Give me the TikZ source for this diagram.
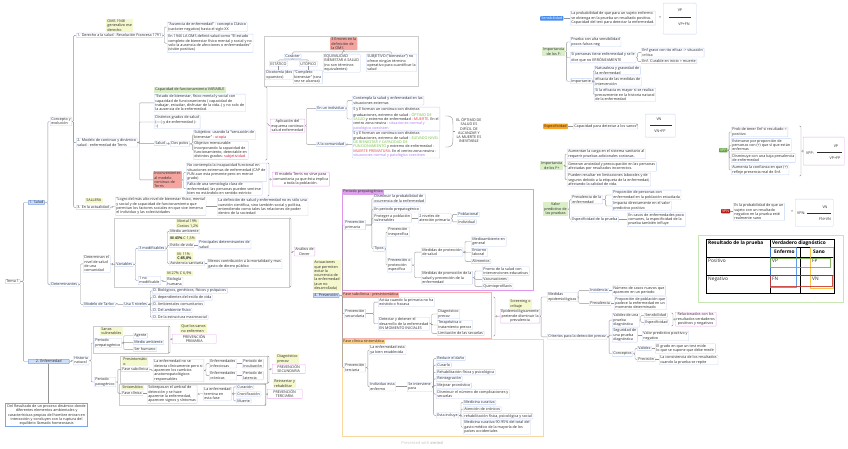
\documentclass[tikz,border=0pt]{standalone}
\usepackage{fontspec}
\setmainfont{Open Sans}
\usetikzlibrary{calc}
\definecolor{tb}{RGB}{196,212,245}
\definecolor{txt}{RGB}{45,45,45}
\definecolor{yl}{RGB}{245,247,205}
\definecolor{gl}{RGB}{218,238,200}
\definecolor{bfill}{RGB}{205,222,250}
\definecolor{bdraw}{RGB}{125,165,235}
\definecolor{redf}{RGB}{245,165,160}
\definecolor{pk}{RGB}{236,175,242}
\definecolor{lg}{RGB}{150,150,150}
\definecolor{frg}{RGB}{205,205,205}
\definecolor{mag}{RGB}{225,150,235}
\definecolor{magl}{RGB}{222,160,235}
\definecolor{rfr}{RGB}{245,180,175}
\definecolor{rfl}{RGB}{248,175,165}
\definecolor{ofr}{RGB}{250,215,160}
\definecolor{ofl}{RGB}{250,205,130}
\definecolor{sblue}{RGB}{70,140,240}
\definecolor{sorange}{RGB}{245,165,40}
\definecolor{sgreen}{RGB}{105,165,70}
\definecolor{sred}{RGB}{190,25,25}
\definecolor{gtx}{RGB}{110,190,60}
\definecolor{rtx}{RGB}{235,60,50}
\definecolor{vtx}{RGB}{170,120,240}
\definecolor{crim}{RGB}{200,30,60}
\definecolor{tgreen}{RGB}{200,230,180}
\newcommand\ft{\fontsize{3.7}{4.3}\selectfont}
\newcommand\tf{\fontsize{4.8}{5.6}\selectfont}
\newcommand\mmk[3]{\draw[conn] (#1.east) -- ++(#2,0) |- (#3.west);}
\newcommand\summk[5]{\draw[conn] (#2-2,#3) -- (#2,#3) -- (#2,#4) -- (#2-2,#4);
 \coordinate (#1) at (#2,{(#3+#4)/2});
 \draw[conn] (#1) -- ++(1.5,0) |- (#5.west);}
\begin{document}
\begin{tikzpicture}[x=1pt,y=-1pt,
 every node/.style={font=\ft, inner xsep=1.2pt, inner ysep=0.8pt, anchor=north west, align=left, text=txt},
 t/.style={draw=tb, line width=0.35pt, rounded corners=0.6pt},
 lab/.style={fill=yl},
 glab/.style={fill=gl},
 main/.style={fill=bfill, draw=bdraw, line width=0.5pt, rounded corners=0.8pt},
 redbox/.style={fill=redf, rounded corners=0.6pt},
 sm/.style={draw=pk, line width=0.4pt, rounded corners=0.6pt, align=center},
 conn/.style={draw=lg, line width=0.4pt, rounded corners=1pt},
 frame/.style={draw=frg, line width=0.4pt},
 tlab/.style={font=\tf, inner sep=0pt}]
\useasboundingbox[fill=white] (0,0) rectangle (848,449);

% ---------- frames ----------
\draw[frame] (264,36) rectangle (418,86);
\draw[frame] (114,218) rectangle (289,287);
\draw[frame] (93,326) rectangle (168,353);
\draw[frame] (120,356) rectangle (267,383);
\draw[frame] (119,384) rectangle (265,405);
\draw[draw=mag, line width=0.5pt] (342,189) rectangle (533,290);
\draw[draw=rfr, line width=0.5pt] (342,292) rectangle (491,338);
\draw[draw=ofr, line width=0.5pt] (342,339) rectangle (543,436);
\draw[draw=tgreen, line width=0.5pt] (698,235) rectangle (843,302);

% ---------- left tree ----------
\node[t, line width=0.5pt] (tema) at (5,279) {Tema 1};
\node[main] (salud) at (28,200) {1. Salud};
\node[main, minimum width=41pt, align=center] (enf) at (28,359) {2. Enfermedad};
\node[t] (concepto) at (50,117) {Concepto y\\evolución};
\node[t] (det) at (50,282) {Determinantes};
\node[t] (der) at (76,33) {1. Derecho a la salud - Resolución Francesa 1791};
\node[lab] (oms) at (106,19) {OMS 1948\\generalizo ese\\derecho};
\node[t] (aus) at (167,22) {"Ausencia de enfermedad" - concepto Clásico\\(carácter negativo) hasta el siglo XX};
\node[t] (n1946) at (167,34) {En 1946 LA OMS definió salud como "El estado\\completo de bienestar físico mental y social y no\\solo la ausencia de afecciones o enfermedades"\\(visión positiva)};

% errores
\node[redbox] (err) at (330,37) {3 Errores en la\\definición de\\la OMS};
\node[t] (car) at (284,54) {Carácter};
\node[t] (est) at (269,61) {ESTÁTICO};
\node[t] (uto) at (299,61) {UTÓPICO};
\node[t] (dic) at (265,70) {Dicotomía (dos\\opuestos)};
\node[t] (comp) at (293,70) {"Completo\\bienestar" (rara\\vez se alcanza)};
\node[t] (equi) at (323,54) {EQUIVALIDAD\\BIENESTAR A SALUD\\(no son términos\\equivalentes)};
\node[t] (subj) at (366,54) {SUBJETIVO ("bienestar") no\\ofrece ningún término\\operativo para cuantificar la\\salud};
\draw[conn] (err.south) -- ++(0,1.5) -| (car.north);
\draw[conn] (err.south) -- (equi.north);
\draw[conn] (err.south) -- ++(0,1.5) -| (subj.north);
\draw[conn] (car.south) -- ++(0,1) -| (est.north);
\draw[conn] (car.south) -- ++(0,1) -| (uto.north);
\draw[conn] (est.south) -- (dic.north -| est.south);
\draw[conn] (uto.south) -- (comp.north -| uto.south);

% modelo
\node[t] (mod) at (76,138) {2. Modelo de continuo y dinámico\\salud - enfermedad de Terris};
\node[glab] (cap) at (154,87) {Capacidad de funcionamiento VARIABLE};
\node[t] (estado) at (154,94) {"Estado de bienestar, físico mental y social con\\capacidad de funcionamiento ( capacidad de\\trabajar, estudiar, disfrutar de la vida..) y no solo de\\la ausencia de la enfermedad.};
\node[t] (dist) at (154,115) {Distintos grados de salud\\(----) y de enfermedad (--\\--)};
\node[t] (sal) at (154,141) {Salud};
\node[t] (dos) at (170,141) {Dos polos};
\node[t] (subjv) at (193,130) {Subjetivo: usando la "sensación de\\bienestar" - \textcolor{crim}{utopía}};
\node[t] (obj) at (193,141) {Objetivo mensurable:\\incorporando la capacidad de\\funcionamiento, detectable en\\distintos grados: \textcolor{crim}{subjetividad}};
\node[redbox] (inc) at (153,171) {Inconvenientes\\al modelo\\continuo de\\Terris};
\node[t] (nocon) at (186,163) {No contempla la incapacidad funcional en\\situaciones extremas de enfermedad (CAP de\\FUN aun esta presente pero en menor\\grado)};
\node[t] (falta) at (186,182) {Falta de una semiología clara de\\enfermedad, las personas pueden sentirse\\bien no estándolo en sentido estricto};
\node[sm] (apl) at (270,119) {Aplicación del\\esquema continuo\\salud enfermedad};
\node[sm] (terr) at (272,172) {El modelo Terris no sirve para\\comunitaria ya que ésta implica\\a toda la población.};
\node[t] (indiv) at (316,106) {En un individuo};
\node[t] (comu) at (316,142) {A la comunidad};
\node[t] (cont) at (352,96) {Contempla la salud y enfermedad en las\\situaciones externas};
\node[t] (sye1) at (352,107) {S y E forman un continuo con distintas\\graduaciones, extremo de salud - \textcolor{gtx}{ÓPTIMO DE}\\\textcolor{gtx}{SALUD} y extremo de enfermedad - \textcolor{rtx}{MUERTE}. En el\\centro zona neutra - \textcolor{vtx}{situaciones normal y}\\\textcolor{vtx}{patológico coexisten}};
\node[t] (sye2) at (352,131) {S y E forman un continuo con distintas\\graduaciones, extremo de salud - \textcolor{gtx}{ELEVADO NIVEL}\\\textcolor{gtx}{DE BIENESTAR Y CAPACIDAD DE}\\\textcolor{gtx}{FUNCIONAMIENTO} y extremo de enfermedad -\\\textcolor{rtx}{MUERTE PREMATURA}. En el centro zona neutra -\\\textcolor{vtx}{situaciones normal y patológico coexisten}};
\node[align=center] (opt) at (455,117) {EL ÓPTIMO DE\\SALUD ES\\DIFÍCIL DE\\ALCANZAR Y\\LA MUERTE ES\\INEVITABLE};
\coordinate (ob1) at (445,116);
\coordinate (ob2) at (445,147);
\coordinate (obm) at (453,131);
\draw[conn] (ob1) .. controls (453,116) .. (obm) .. controls (453,147) .. (ob2);
\draw[conn] (obm) -- (opt.west |- obm);

\node[lab] (sall) at (85,198) {SALLERA};
\node[t] (act) at (76,205) {3. En la actualidad};
\node[t] (logro) at (115,197) {"Logro del más alto nivel de bienestar físico, mental\\y social y de capacidad de funcionamiento que\\permitan los factores sociales en que vive inmerso\\el individuo y las colectividades};
\node[t] (defi) at (217,198) {La definición de salud y enfermedad no es sólo una\\cuestión científica, sino también social y política,\\entendiendo como tales las relaciones de poder\\dentro de la sociedad};

% determinantes
\node[t] (detn) at (83,255) {Determinan el\\nivel de salud\\de una\\comunidad};
\node[t] (var) at (115,262) {Variables};
\node[t] (mod3) at (138,246) {3 modificables};
\node[t] (no1) at (138,276) {1 no\\modificable};
\node[lab] (mc1) at (176,219) {Mortal 19\%\\Costos 1,2\%};
\node[t] (medio) at (169,229) {Medio ambiente};
\node[lab] (mc2) at (169,236) {\textbf{M 43\%} C 1,5\%};
\node[t] (estilo) at (169,243) {Estilo de vida};
\node[t] (princ) at (198,240) {Principales determinantes de\\salud};
\node[lab] (mc3) at (176,252) {M: 11\%\\\textbf{C:85,8\%}};
\node[t] (asis) at (169,261) {Asistencia sanitaria};
\node[t] (menos) at (207,259) {Menos contribución a la mortalidad y mas\\gasto de dinero público};
\node[lab] (mc4) at (166,271) {M 27\% C 6,9\%};
\node[t] (bio) at (166,277) {Biología\\humana};
\node[sm] (dever) at (294,247) {Análisis de\\Dever};
\node[t] (tarlov) at (83,302) {Modelo de Tarlov};
\node[t] (usa) at (123,302) {Usa 5 niveles};
\node[t] (d1) at (152,288) {D. Biológicos, genéticos, físicos y psíquicos};
\node[t] (d2) at (152,294.7) {D. dependientes del estilo de vida};
\node[t] (d3) at (152,301.4) {D. Ambientales comunitarios};
\node[t] (d4) at (152,308.1) {D. Del ambiente físico};
\node[t] (d5) at (152,314.8) {D. De la estructura macrosocial};

% enfermedad
\node[draw=bdraw, line width=0.8pt, align=center, inner xsep=2pt, inner ysep=1.2pt] (res) at (5,403) {Del Resultado de un proceso dinámico donde\\diferentes elementos ambientales y\\características propias del hombre entran en\\interacción y concluyen con la ruptura del\\equilibrio llamado homeostasis};
\node[t] (hist) at (73,356) {Historia\\natural};
\node[lab] (sanos) at (100,327) {Sanos\\vulnerables};
\node[t] (prepat) at (94,338) {Periodo\\prepatogénico};
\node[t] (agente) at (133,333) {Agente};
\node[t] (mamb) at (133,340) {Medio ambiente};
\node[t] (ser) at (133,347) {Ser humano};
\node[lab] (quelos) at (180,324) {Que los sanos\\no enfermen};
\node[sm, minimum width=44pt] (ppri) at (172,334) {PREVENCIÓN\\PRIMARIA};
\node[t] (pat) at (94,377) {Periodo\\patogénico};
\node[lab] (presin) at (122,357) {Presintomátic\\o};
\node[t] (fsub) at (121,367) {Fase subclínica};
\node[t] (noset) at (153,359) {La enfermedad no se\\detecta clínicamente pero si\\aparecen los cambios\\anatomopatológicos\\responsables};
\node[t] (einf) at (209,359) {Enfermedades\\infecciosas};
\node[t] (ecro) at (209,371) {Enfermedades\\crónicas};
\node[t] (pinc) at (242,359) {Periodo de\\incubación};
\node[t] (plat) at (242,371) {Periodo de\\latencia};
\node[lab] (diag) at (276,354) {Diagnóstico\\precoz};
\node[sm, minimum width=33pt] (psec2) at (272,364) {PREVENCIÓN\\SECUNDARIA};
\node[lab] (sint) at (121,385) {Sintomático};
\node[t] (fcli) at (121,391) {Fase clínica};
\node[t] (sobre) at (147,385) {Sobrepasan el umbral de\\detección y se hace\\aparente la enfermedad,\\aparecen signos y síntomas};
\node[t] (term) at (203,387) {La enfermedad\\termina en\\esta fase};
\node[t] (cur) at (236,384.5) {Curación};
\node[t] (cron) at (236,391.5) {Cronificación};
\node[t] (muer) at (236,398.5) {Muerte};
\node[lab] (rein) at (273,379) {Reinsertar y\\rehabilitar};
\node[sm, minimum width=35pt] (pter2) at (267,389) {PREVENCIÓN\\TERCIARIA};

% left connectors
\mmk{tema}{3}{salud}
\mmk{tema}{3}{enf}
\mmk{salud}{3}{concepto}
\mmk{salud}{3}{det}
\mmk{concepto}{1.5}{der}
\mmk{concepto}{1.5}{mod}
\mmk{concepto}{1.5}{act}
\mmk{der}{2}{aus}
\mmk{der}{2}{n1946}
\mmk{mod}{2}{estado}
\mmk{mod}{2}{dist}
\mmk{mod}{2}{sal}
\mmk{mod}{2}{inc}
\mmk{sal}{2}{dos}
\mmk{dos}{2.5}{subjv}
\mmk{dos}{2.5}{obj}
\mmk{inc}{1.5}{nocon}
\mmk{inc}{1.5}{falta}
\summk{sa}{267}{87}{160}{apl}
\summk{sb}{269}{163}{196}{terr}
\mmk{apl}{1.5}{indiv}
\mmk{apl}{1.5}{comu}
\mmk{indiv}{1.5}{cont}
\mmk{indiv}{1.5}{sye1}
\mmk{comu}{1.5}{sye2}
\mmk{act}{2}{logro}
\draw[conn] (logro.east) -- (defi.west |- logro.east);
\mmk{det}{2}{detn}
\mmk{det}{2}{tarlov}
\mmk{detn}{2}{var}
\mmk{var}{2}{mod3}
\mmk{var}{2}{no1}
\mmk{mod3}{1.5}{medio}
\mmk{mod3}{1.5}{estilo}
\mmk{mod3}{1.5}{asis}
\draw[conn] (estilo.east) -- (princ.west |- estilo.east);
\draw[conn] (asis.east) -- (menos.west |- asis.east);
\mmk{no1}{2}{bio}
\summk{sc}{291}{218}{287}{dever}
\mmk{tarlov}{1.5}{usa}
\mmk{usa}{2}{d1}
\mmk{usa}{2}{d2}
\mmk{usa}{2}{d3}
\mmk{usa}{2}{d4}
\mmk{usa}{2}{d5}
\draw[conn, line width=0.7pt] (enf.south) -- (enf.south |- res.north);
\mmk{enf}{2}{hist}
\mmk{hist}{2}{prepat}
\mmk{hist}{2}{pat}
\mmk{prepat}{2}{agente}
\mmk{prepat}{2}{mamb}
\mmk{prepat}{2}{ser}
\summk{sd}{170}{326}{353}{ppri}
\mmk{pat}{2}{fsub}
\mmk{pat}{2}{fcli}
\mmk{fsub}{2}{noset}
\mmk{noset}{2}{einf}
\mmk{noset}{2}{ecro}
\draw[conn] (einf.east) -- (pinc.west |- einf.east);
\draw[conn] (ecro.east) -- (plat.west |- ecro.east);
\summk{se}{269}{356}{383}{psec2}
\draw[conn] (fcli.east) -- (sobre.west |- fcli.east);
\mmk{sobre}{1.5}{term}
\mmk{term}{1.5}{cur}
\mmk{term}{1.5}{cron}
\mmk{term}{1.5}{muer}
\summk{sf}{266}{384}{405}{pter2}

% ---------- prevencion ----------
\node[lab] (actua0) at (313,260) {Actuaciones\\que permiten\\evitar la\\ocurrencia de\\la enfermedad\\(aun no\\desarrollada)};
\node[main] (prev) at (313,293) {4. Prevención};
\node[fill=magl] (lpp) at (342,189) {Periodo prepatogénico};
\node[t] (pprim) at (344,220) {Prevención\\primaria};
\node[t] (dism) at (373,194) {Disminuir la probabilidad de\\ocurrencia de la enfermedad};
\node[t] (enper) at (373,206.5) {En periodo prepatogénico};
\node[t] (prot) at (373,213.5) {Proteger a población\\vulnerables};
\node[t] (niv2) at (418,213.5) {2 niveles de\\atención primaria};
\node[t] (pobl) at (457,212) {Poblacional};
\node[t] (indv) at (457,219.5) {Individual};
\node[t] (tipos) at (373,246) {Tipos};
\node[t] (pinesp) at (387,227) {Prevención\\inespecífica};
\node[t] (pesp) at (387,258) {Prevención o\\protección\\específica};
\node[t] (mprot) at (421,247.5) {Medidas de protección\\de salud};
\node[t] (mamb2) at (471,236.5) {Medioambiente en\\general};
\node[t] (entor) at (471,248) {Entorno\\laboral};
\node[t] (alim) at (471,259) {Alimentos};
\node[t] (mprom) at (421,271) {Medidas de promoción de la\\salud y prevención de la\\enfermedad};
\node[t] (promo) at (482,266.5) {Promo de la salud con\\intervenciones educativas};
\node[t] (vac) at (482,277) {Vacunaciones};
\node[t] (quim) at (482,283.5) {Quimioprofilaxis};

\node[fill=rfl] (lfs) at (342,292) {Fase subclínica - presintomática};
\node[t] (psec) at (344,309) {Prevención\\secundaria};
\node[t] (actu) at (378,297.5) {Actúa cuando la primaria no ha\\existido o fracasa};
\node[t] (detec) at (378,317) {Detectar y detener el\\desarrollo de la enfermedad\\EN MOMENTO INICIALES};
\node[t] (dprec) at (437,309) {Diagnóstico\\precoz};
\node[t] (terap) at (437,320) {Terapéutica o\\tratamiento precoz};
\node[t] (limit) at (437,331) {Limitación de las secuelas};

\node[fill=ofl] (lfc) at (342,339) {Fase clínica sintomática};
\node[t] (pterc) at (344,363) {Prevención\\terciaria};
\node[t] (laenf) at (369,345) {La enfermedad esta\\ya bien establecida};
\node[t] (indenf) at (369,382) {Individuo esta\\enfermo};
\node[t] (seint) at (407,382) {Se interviene\\para};
\node[t] (red) at (436,356) {Reducir el daño};
\node[t] (curarlo) at (436,362.7) {Curarlo};
\node[t] (rehab) at (436,369.4) {Rehabilitación física y psicológica};
\node[t] (reint) at (436,376.1) {Reintegración};
\node[t] (mejor) at (436,382.8) {Mejorar pronóstico};
\node[t] (dismin) at (436,389.5) {Disminuir el número de complicaciones y\\secuelas};
\node[t] (esta) at (436,412.5) {Esta incluye};
\node[t] (medc) at (463,400) {Medicina curativa};
\node[t] (atc) at (463,406.7) {Atención de crónicos};
\node[t] (rfps) at (463,413.4) {rehabilitación física, psicológica y social};
\node[t] (med90) at (463,420.1) {Medicina curativa 90-95\% del total del\\gasto médico de la mayoría de los\\países occidentales};

\node[lab] (scr) at (509,299) {Screening o\\cribaje};
\node[sm] (epi) at (500,309) {Epidemiológicamente\\pretende disminuir la\\prevalencia};
\node[t] (medep) at (547,292) {Medidas\\epidemiológicas};
\node[t] (incid) at (589,288) {Incidencia};
\node[t] (preval) at (589,301) {Prevalencia};
\node[t] (numc) at (612,285.5) {Número de casos nuevos que\\aparecen en un periodo};
\node[t] (propp) at (614,296.5) {Proporción de población que\\padece la enfermedad en un\\momento determinado};
\node[t] (crit) at (547,334) {Criterios para la detección precoz};
\node[t] (valp) at (612,313) {Validez de una\\prueba\\diagnóstica};
\node[t] (sens2) at (644,313) {Sensibilidad};
\node[t] (esp2) at (644,319.5) {Especificidad};
\node[sm] (rel) at (675,312) {Relacionados con los\\resultados verdaderos\\positivos y negativos};
\node[t] (segp) at (612,328) {Seguridad de\\una prueba\\diagnóstica};
\node[t] (vpp2) at (642,331) {Valor predictivo positivo y\\negativo};
\node[t] (conc) at (612,351) {Conceptos};
\node[t] (valz) at (637,346) {Validez};
\node[t] (prec) at (637,357) {Precisión};
\node[t] (grado) at (655,343.5) {El grado en que un test mide\\lo que se supone que debe medir};
\node[t] (consis) at (659,355) {La consistencia de los resultados\\cuando la prueba se repite};

\draw[conn] (prev.east) -- ++(3,0) |- (pprim.west);
\draw[conn] (prev.east) -- ++(3,0) |- (psec.west);
\draw[conn] (prev.east) -- ++(3,0) |- (pterc.west);
\mmk{pprim}{6}{dism}
\mmk{pprim}{6}{enper}
\mmk{pprim}{6}{prot}
\mmk{pprim}{6}{tipos}
\draw[conn] (prot.east) -- (niv2.west |- prot.east);
\mmk{niv2}{1}{pobl}
\mmk{niv2}{1}{indv}
\mmk{tipos}{1}{pinesp}
\mmk{tipos}{1}{pesp}
\mmk{pesp}{2.5}{mprot}
\mmk{pesp}{2.5}{mprom}
\mmk{mprot}{2}{mamb2}
\mmk{mprot}{2}{entor}
\mmk{mprot}{2}{alim}
\mmk{mprom}{2}{promo}
\mmk{mprom}{2}{vac}
\mmk{mprom}{2}{quim}
\mmk{psec}{8}{actu}
\mmk{psec}{8}{detec}
\mmk{detec}{2}{dprec}
\mmk{detec}{2}{terap}
\mmk{detec}{2}{limit}
\mmk{pterc}{2}{laenf}
\mmk{pterc}{2}{indenf}
\draw[conn] (indenf.east) -- (seint.west |- indenf.east);
\mmk{seint}{1.5}{red}
\mmk{seint}{1.5}{curarlo}
\mmk{seint}{1.5}{rehab}
\mmk{seint}{1.5}{reint}
\mmk{seint}{1.5}{mejor}
\mmk{seint}{1.5}{dismin}
\mmk{seint}{1.5}{esta}
\mmk{esta}{2}{medc}
\mmk{esta}{2}{atc}
\mmk{esta}{2}{rfps}
\mmk{esta}{2}{med90}
\summk{sg}{495}{297}{336}{epi}
\mmk{epi}{1}{medep}
\mmk{epi}{1}{crit}
\mmk{medep}{1}{incid}
\mmk{medep}{1}{preval}
\draw[conn] (incid.east) -- (numc.west |- incid.east);
\draw[conn] (preval.east) -- (propp.west |- preval.east);
\mmk{crit}{2}{valp}
\mmk{crit}{2}{segp}
\mmk{crit}{2}{conc}
\mmk{valp}{1}{sens2}
\mmk{valp}{1}{esp2}
\summk{sh}{673}{313}{326}{rel}
\draw[conn] (segp.east) -- (vpp2.west |- segp.east);
\mmk{conc}{2}{valz}
\mmk{conc}{2}{prec}
\draw[conn] (valz.east) -- (grado.west |- valz.east);
\draw[conn] (prec.east) -- (consis.west |- prec.east);

% ---------- right column ----------
\node[fill=sblue, text=white, rounded corners=0.6pt] (sensib) at (540,16) {Sensibilidad};
\node[t] (laprob) at (570,11) {La probabilidad de que para un sujeto enfermo\\se obtenga en la prueba un resultado positivo.\\Capacidad del test para detectar la enfermedad.};
\node[inner sep=0pt] (eq1) at (659,16.5) {=};
\node[t, minimum width=33pt, minimum height=31pt] (f1) at (663,3) {};
\node[anchor=center, inner sep=0pt] (f1n) at (680,10) {VP};
\node[anchor=center, inner sep=0pt] (f1d) at (684,24) {VP+FN};
\draw[line width=0.4pt, txt] (669,17) -- (691,17);
\draw[conn] (sensib.east) -- (laprob.west |- sensib.east);

\node[glab, align=center] (impneg) at (542,47) {Importancia\\de los F-};
\node[t] (pru) at (570,37) {Prueba con alta sensibilidad\\pocos falsos neg};
\node[t] (sip) at (570,52) {Si personas tiene enfermedad y se le\\dice que no ERRÓNEAMENTE};
\node[t] (enfg) at (641,48) {Enf grave con tto eficaz -> situación\\crítica};
\node[t] (enfc) at (641,59) {Enf. Curable en inicio = muerte};
\node[t] (impte) at (570,78.5) {Importante};
\node[t] (nat) at (594,66) {Naturaleza y gravedad de\\la enfermedad};
\node[t] (efi) at (594,77) {eficacia de las medidas de\\intervención};
\node[t] (siefi) at (594,88) {Si la eficacia es mayor si se realiza\\precozmente en la historia natural\\de la enfermedad};
\mmk{impneg}{1}{pru}
\mmk{impneg}{1}{sip}
\mmk{impneg}{1}{impte}
\mmk{sip}{1.5}{enfg}
\mmk{sip}{1.5}{enfc}
\mmk{impte}{1}{nat}
\mmk{impte}{1}{efi}
\mmk{impte}{1}{siefi}

\node[fill=sorange, rounded corners=0.6pt] (espec) at (543,123.5) {Especificidad};
\node[t] (capsan) at (573,123.5) {Capacidad para detectar a los sanos};
\node[inner sep=0pt] (eq2) at (636,125) {=};
\node[t, minimum width=30pt, minimum height=23pt] (f2) at (645,114) {};
\node[anchor=center, inner sep=0pt] (f2n) at (659,119.5) {VN};
\node[anchor=center, inner sep=0pt] (f2d) at (660,131) {VN+FP};
\draw[line width=0.4pt, txt] (650,125) -- (672,125);
\draw[conn] (espec.east) -- (capsan.west |- espec.east);

\node[glab, align=center] (imppos) at (540,161) {Importancia\\de los F+};
\node[t] (aum) at (567,149) {Aumentan la carga en el sistema sanitario al\\requerir pruebas adicionales costosas.};
\node[t] (gen) at (567,161.5) {Generan ansiedad y preocupación en las personas\\afectadas por resultados incorrectos.};
\node[t] (pued) at (567,173) {Pueden resultar en limitaciones laborales y de\\seguros debido a la etiqueta de la enfermedad,\\afectando la calidad de vida.};
\mmk{imppos}{1.5}{aum}
\mmk{imppos}{1.5}{gen}
\mmk{imppos}{1.5}{pued}

\node[glab, align=center] (valpred) at (543,202) {Valor\\predictivo de\\las pruebas};
\node[t] (preva) at (571,195) {Prevalencia de la\\enfermedad};
\node[t] (propor) at (612,190) {Proporción de personas con\\enfermedad en la población estudiada};
\node[t] (impac) at (612,201) {Impacta directamente en el valor\\predictivo positivo};
\node[t] (espp) at (571,216.5) {Especificidad de la prueba};
\node[t] (encas) at (627,212.5) {En casos de enfermedades poco\\comunes, la especificidad de la\\prueba también influye};
\mmk{valpred}{1.5}{preva}
\mmk{valpred}{1.5}{espp}
\mmk{preva}{3}{propor}
\mmk{preva}{3}{impac}
\draw[conn] (espp.east) -- (encas.west |- espp.east);

\node[fill=sgreen, text=white, rounded corners=0.5pt, inner xsep=0.8pt] (vpp) at (719,148) {VPP};
\node[t] (prob) at (731,127) {Prob de tener Enf si resultado =\\positivo};
\node[t] (estim) at (731,138.5) {Estimarse por proporción de\\personas con (+) que sí que están\\enfermas};
\node[t] (dismi) at (731,153.5) {Disminuye con una baja prevalencia\\de enfermedad};
\node[t] (aumc) at (731,165) {Aumenta la confianza en que (+)\\refleje presencia real de Enf.};
\mmk{vpp}{1.5}{prob}
\mmk{vpp}{1.5}{estim}
\mmk{vpp}{1.5}{dismi}
\mmk{vpp}{1.5}{aumc}
\node[sm, minimum width=41pt, minimum height=28pt] (f3) at (803,137) {};
\summk{si}{801}{126}{176}{f3}
\node[anchor=west, inner sep=0pt] (f3l) at (806,153) {VPP:};
\node[anchor=center, inner sep=0pt] (f3n) at (836,146) {VP};
\node[anchor=center, inner sep=0pt] (f3d) at (835,158) {VP+FP};
\draw[line width=0.4pt, txt] (817,152.5) -- (842,152.5);

\node[fill=sred, text=white, rounded corners=0.5pt, inner xsep=0.8pt] (vpn) at (721,209) {VPN};
\node[t] (esprob) at (733,203) {Es la probabilidad de que un\\sujeto con un resultado\\negativo en la prueba esté\\realmente sano};
\draw[conn] (vpn.east) -- (esprob.west |- vpn.east);
\node[inner sep=0pt] (eq3) at (791,211) {=};
\node[t, minimum width=38pt, minimum height=27pt] (f4) at (795,199) {};
\node[anchor=west, inner sep=0pt] (f4l) at (797,213) {VPN:};
\node[anchor=center, inner sep=0pt] (f4n) at (825,207) {VN};
\node[anchor=center, inner sep=0pt] (f4d) at (825,219) {FN+VN};
\draw[line width=0.4pt, txt] (807,213) -- (831,213);

% table
\draw[line width=0.7pt, black] (706,239) rectangle (834,293);
\draw[line width=0.5pt, black] (770,239) -- (770,293);
\draw[line width=0.5pt, black] (800,247) -- (800,293);
\draw[line width=0.5pt, black] (770,247) -- (834,247);
\draw[line width=0.5pt, black] (706,257) -- (834,257);
\draw[line width=0.5pt, black] (706,275) -- (834,275);
\node[tlab, text=black] (th1) at (708,240.5) {\textbf{Resultado de la prueba}};
\node[tlab, text=black] (th2) at (772,240.5) {\textbf{Verdadero diagnóstico}};
\node[tlab, text=black] (th3) at (774,249.5) {\textbf{Enfermo}};
\node[tlab, text=black] (th4) at (813,249.5) {\textbf{Sano}};
\node[tlab] (tp) at (708,259) {Positivo};
\node[tlab] (tvp) at (772,259) {VP};
\node[tlab] (tfp) at (812,259) {FP};
\node[tlab] (tn) at (708,277) {Negativo};
\node[tlab] (tfn) at (772,277) {FN};
\node[tlab] (tvn) at (812,277) {VN};
\draw[line width=1pt, draw={rgb,255:red,70;green,140;blue,240}, opacity=0.85] (770.5,247.5) rectangle (796,287);
\draw[line width=1pt, draw={rgb,255:red,250;green,185;blue,50}, opacity=0.85] (810,247.5) rectangle (833,288);
\draw[line width=1pt, draw={rgb,255:red,120;green,170;blue,80}, opacity=0.85] (770.5,258.5) rectangle (830,267.5);
\draw[line width=1pt, draw={rgb,255:red,200;green,50;blue,40}, opacity=0.85] (770.5,275.5) rectangle (832,286);

\node[text={rgb,255:red,200;green,200;blue,200}, font=\fontsize{4}{5}\selectfont] (wm) at (400,440) {Presented with \textbf{xmind}};
\end{tikzpicture}
\end{document}
